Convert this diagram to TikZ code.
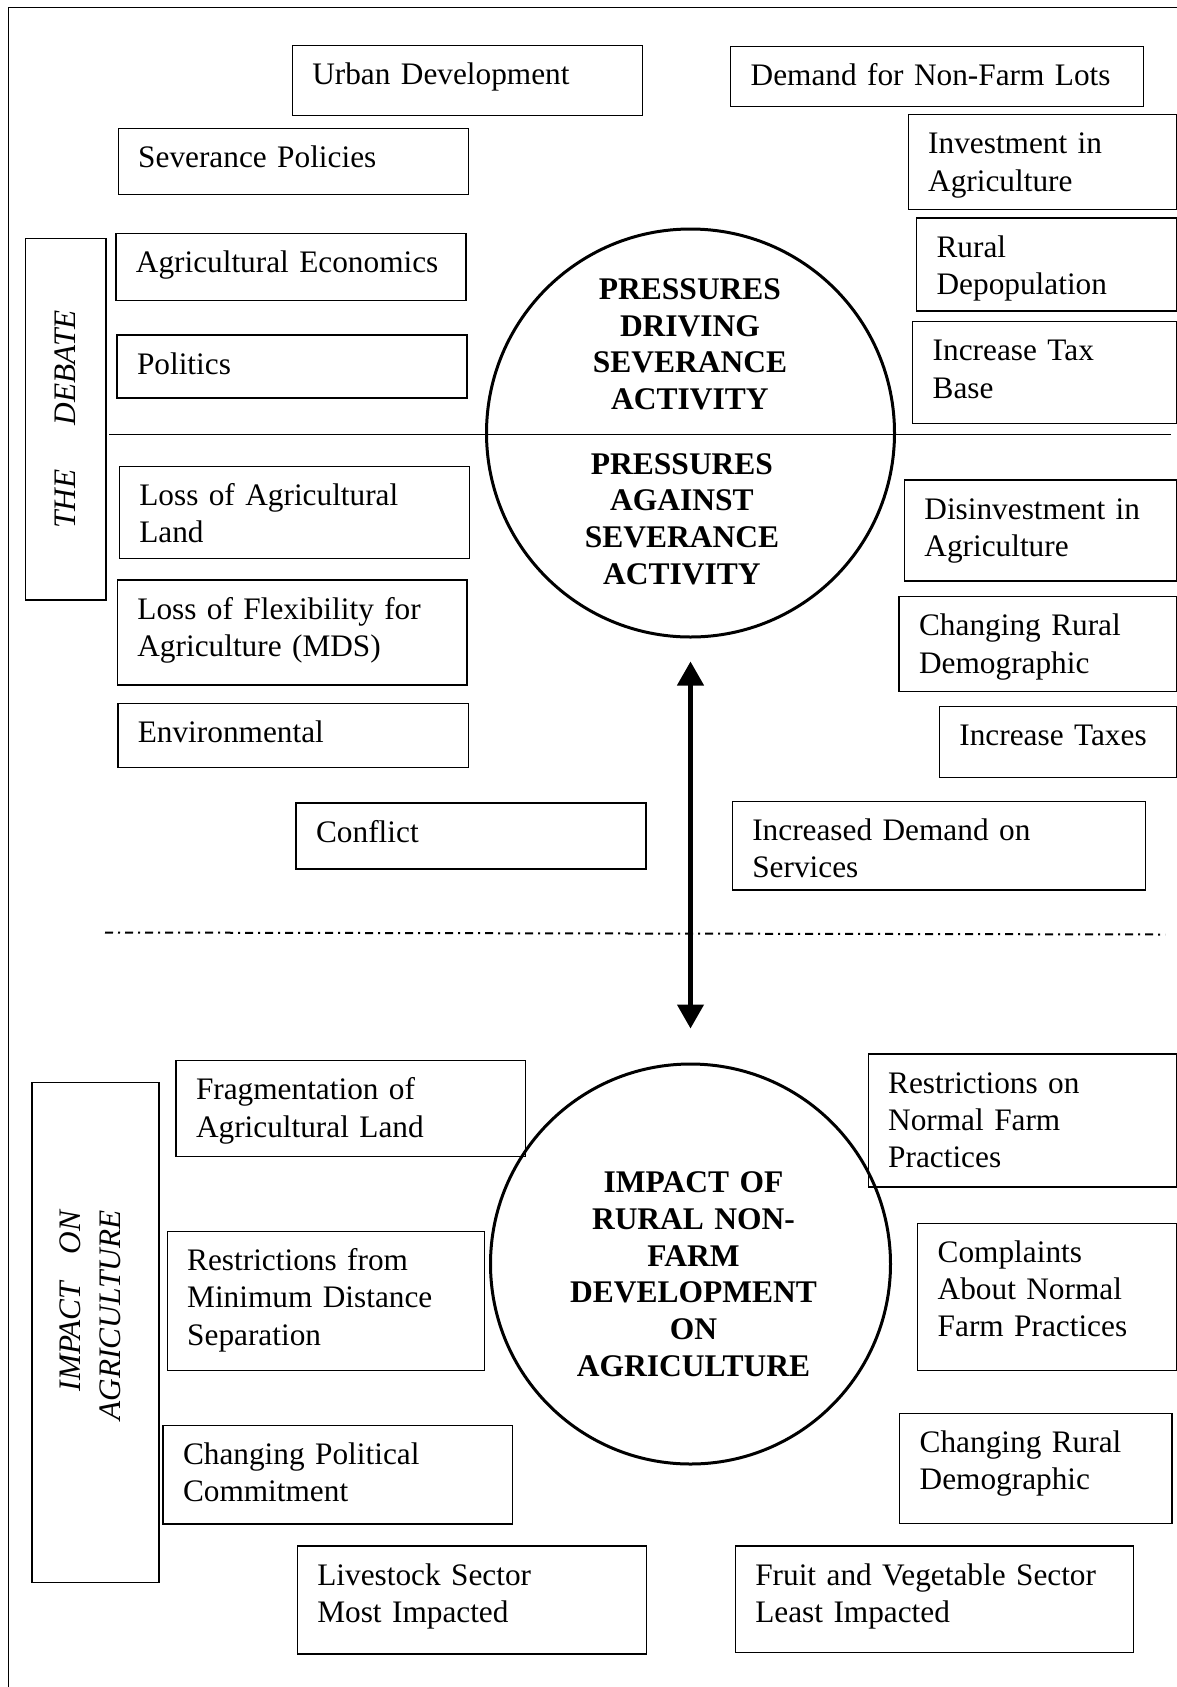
\documentclass[tikz,border=0pt]{standalone}
\usepackage{fontspec}
\setmainfont{Liberation Serif}
\usetikzlibrary{arrows.meta}
\newcommand{\boxfont}{\fontsize{31.3}{37.3}\selectfont}
\newcommand{\circfont}{\fontsize{31.5}{36.7}\selectfont\bfseries}
\tikzset{
pbox/.style 2 args={draw, line width=1.4pt, anchor=north west, % text box, placed by its top left corner
  minimum width=#1pt, minimum height=#2pt, text width=#1pt-40pt,
  text height=39pt, text depth=#2pt-39pt, % first baseline sits 39pt under the top edge
  inner xsep=20pt, inner ysep=0pt, align=left, font=\boxfont},
sidebox/.style={draw, line width=1.4pt, rotate=90, align=center, inner sep=0pt, font=\boxfont\itshape}, % the two turned titles
bigcircle/.style={draw, circle, line width=3pt, minimum size=#1, inner sep=0pt},
circtext/.style={anchor=base, text width=300pt, align=center, font=\circfont}, % bold text in the circles
biarrow/.style={{Triangle[length=24pt,width=26pt]}-{Triangle[length=24pt,width=26pt]}, line width=4.5pt},
divider/.style={line width=1.5pt},
midline/.style={line width=2pt, dash pattern=on 8pt off 5pt on 2pt off 5pt}, % dash dot line between the halves
outerframe/.style={line width=1.3pt},
}

\begin{document}
\begin{tikzpicture}[x=1pt, y=-1pt]
    \useasboundingbox (0,0) rectangle (1177,1687);
    \draw[outerframe] (8.4,7.3) rectangle (1200,1710);

    % the debate
    \node[sidebox, minimum width=361.3pt, minimum height=80.7pt] (debate) at (65.6,419.3) {THE\hspace{44pt}DEBATE};
    \node[bigcircle=408pt] (press) at (690.5,433) {};
    \node[circtext] (drive) at (690,299.3) {PRESSURES\\DRIVING\\SEVERANCE\\ACTIVITY};
    \node[circtext] (against) at (682,474) {PRESSURES\\AGAINST\\SEVERANCE\\ACTIVITY};

    \node[pbox={350}{70}] (urban) at (291.6,45) {Urban Development};
    \node[pbox={413}{60}] (demand) at (730,45.7) {Demand for Non-Farm Lots};
    \node[pbox={350}{66}] (sevpol) at (117.5,127.7) {Severance Policies};
    \node[pbox={268.5}{95}] (invest) at (907.5,114) {Investment in\\Agriculture};
    \node[pbox={350}{67}] (ageco) at (115.2,232.7) {Agricultural Economics};
    \node[pbox={260}{93}] (depop) at (915.9,217.3) {Rural\\Depopulation};
    \node[pbox={350}{63}] (politics) at (116.3,334.3) {Politics};
    \node[pbox={264}{102}] (taxbase) at (912,321) {Increase Tax\\Base};

    \node[pbox={350}{92}] (lossland) at (118.6,465.7) {Loss of Agricultural\\Land};
    \node[pbox={272.3}{101}] (disinvest) at (903.7,479.3) {Disinvestment in\\Agriculture};
    \node[pbox={349.4}{105}] (flex) at (116.7,579.3) {Loss of Flexibility for\\Agriculture (MDS)};
    \node[pbox={277.6}{95}] (ruraldem) at (898.4,596) {Changing Rural\\Demographic};
    \node[pbox={350.6}{64}] (environ) at (117.1,703) {Environmental};
    \node[pbox={237.3}{71}] (taxes) at (938.7,706) {Increase Taxes};
    \node[pbox={350}{66}] (conflict) at (295.4,802.3) {Conflict};
    \node[pbox={413}{88.6}] (services) at (731.6,800.7) {Increased Demand on\\Services};

    \coordinate (divl) at (109,434.3);
    \coordinate (divr) at (1170.6,434.3);
    \draw[divider] (divl) -- (divr);
    \coordinate (dashl) at (105,932.5);
    \coordinate (dashr) at (1165,934.5);
    \draw[midline] (dashl) -- (dashr);

    % impact on agriculture
    \node[sidebox, align=right, minimum width=500.3pt, minimum height=127pt] (impactlbl) at (95.3,1332.5)
        {IMPACT\hspace{28pt}ON\\[3pt]\hspace*{34pt}AGRICULTURE\rule[-10pt]{0pt}{0pt}};
    \node[bigcircle=400pt] (impact) at (690.5,1264) {};
    \node[circtext] (impacttxt) at (693.5,1192.7) {IMPACT OF\\RURAL NON-\\FARM\\DEVELOPMENT\\ON\\AGRICULTURE};

    \node[pbox={349.7}{96}] (frag) at (175.3,1060) {Fragmentation of\\Agricultural Land};
    \node[pbox={308.5}{133}] (normfarm) at (867.5,1053.4) {Restrictions on\\Normal Farm\\Practices};
    \node[pbox={317}{139}] (mds) at (166.5,1230.8) {Restrictions from\\Minimum Distance\\Separation};
    \node[pbox={259}{147.5}] (complain) at (917,1222.5) {Complaints\\About Normal\\Farm Practices};
    \node[pbox={349.4}{98.5}] (political) at (162.3,1424.9) {Changing Political\\Commitment};
    \node[pbox={272.4}{110}] (ruraldemb) at (899,1412.6) {Changing Rural\\Demographic};
    \node[pbox={349.3}{108}] (livestock) at (296.6,1545.3) {Livestock Sector\\Most Impacted};
    \node[pbox={398.4}{106.5}] (fruit) at (734.6,1545.3) {Fruit and Vegetable Sector\\Least Impacted};

    \draw[biarrow, shorten <=23pt, shorten >=34pt] (press.south) -- (impact.north);
\end{tikzpicture}
\end{document}
